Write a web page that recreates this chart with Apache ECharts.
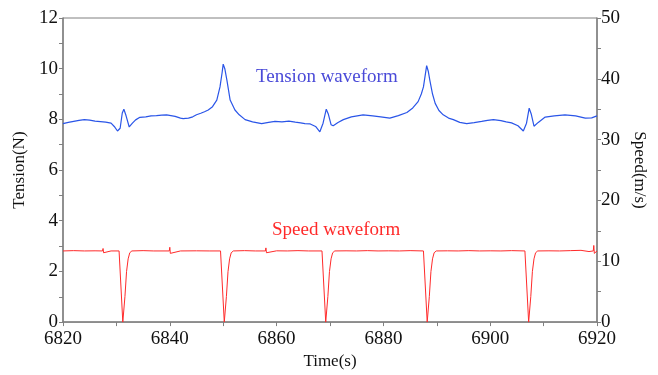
<!DOCTYPE html>
<html>
<head>
<meta charset="utf-8">
<script src="https://cdn.jsdelivr.net/npm/echarts@6/dist/echarts.min.js"></script>
<style>html,body{margin:0;padding:0;background:#fff}#c{width:658px;height:375px}</style>
</head>
<body>
<div id="c"></div>
<script>
// Time ticks (s)
const xTicks = [6820, 6840, 6860, 6880, 6900, 6920];
// Tension waveform (N) on left axis
const tensionT = [6820, 6821, 6822, 6823, 6824, 6825, 6826, 6827, 6828, 6829, 6829.6, 6830.2, 6830.7, 6831.1, 6831.4, 6831.8, 6832.4, 6833, 6833.6, 6834.4, 6835.5, 6836.5, 6837.5, 6838.5, 6839.4, 6840.2, 6841, 6842, 6842.5, 6843.5, 6844.3, 6845, 6845.8, 6846.5, 6847.2, 6848, 6848.8, 6849.4, 6849.8, 6850, 6850.3, 6850.7, 6851.3, 6852.2, 6853, 6854.1, 6855.5, 6857.2, 6858.5, 6859.7, 6861, 6862.3, 6863.5, 6864.5, 6865.3, 6866.3, 6867.3, 6868.1, 6868.7, 6869.3, 6869.7, 6870.2, 6870.6, 6871.5, 6872.5, 6874, 6876.2, 6878, 6879.5, 6881.2, 6882.8, 6884.4, 6885.5, 6886.5, 6887.1, 6887.5, 6888.1, 6888.4, 6888.7, 6889.2, 6889.7, 6890.4, 6891.2, 6892.2, 6893.1, 6894.3, 6895.6, 6897, 6898.4, 6899.5, 6900.6, 6902, 6903, 6904, 6905.2, 6906.2, 6906.8, 6907.3, 6907.7, 6908.2, 6909, 6910.3, 6912, 6914, 6916, 6917.8, 6919, 6920];
const tensionV = [7.83, 7.88, 7.92, 7.96, 7.99, 7.97, 7.93, 7.91, 7.89, 7.85, 7.72, 7.54, 7.65, 8.25, 8.40, 8.15, 7.70, 7.85, 7.98, 8.08, 8.10, 8.14, 8.15, 8.17, 8.18, 8.15, 8.12, 8.05, 8.03, 8.05, 8.10, 8.18, 8.24, 8.30, 8.37, 8.50, 8.76, 9.28, 9.85, 10.18, 10.0, 9.54, 8.76, 8.37, 8.18, 7.99, 7.90, 7.83, 7.88, 7.92, 7.90, 7.93, 7.89, 7.86, 7.83, 7.82, 7.72, 7.51, 7.85, 8.40, 8.20, 7.79, 7.75, 7.88, 7.99, 8.10, 8.18, 8.14, 8.10, 8.05, 8.15, 8.27, 8.45, 8.70, 9.0, 9.28, 10.12, 9.9, 9.54, 9.0, 8.63, 8.35, 8.18, 8.05, 7.99, 7.88, 7.83, 7.87, 7.92, 7.96, 7.99, 7.95, 7.90, 7.86, 7.75, 7.54, 7.85, 8.44, 8.20, 7.73, 7.88, 8.09, 8.14, 8.18, 8.14, 8.05, 8.06, 8.14];
// Speed waveform (m/s) on right axis
const speedT = [6820, 6822, 6824, 6826, 6827.4, 6827.5, 6827.6, 6829, 6830.5, 6831.2, 6831.6, 6831.9, 6832.2, 6832.5, 6832.9, 6835, 6837, 6839.9, 6840, 6840.1, 6842, 6845, 6847.5, 6847.6, 6847.7, 6849.5, 6850.2, 6850.6, 6850.9, 6851.2, 6851.5, 6851.9, 6854, 6856, 6857.9, 6858, 6858.1, 6860, 6862, 6864, 6866, 6868.5, 6869.2, 6869.6, 6869.9, 6870.2, 6870.5, 6870.9, 6873, 6875, 6877, 6879, 6881, 6883, 6885, 6887.5, 6888.2, 6888.6, 6888.9, 6889.2, 6889.5, 6889.9, 6892, 6894, 6896, 6898, 6900, 6902, 6904, 6906.5, 6907.2, 6907.6, 6907.9, 6908.2, 6908.5, 6908.9, 6911, 6913, 6915, 6917, 6918.5, 6919.3, 6919.4, 6919.5, 6920];
const speedV = [11.7, 11.75, 11.7, 11.72, 11.7, 12.1, 11.4, 11.7, 11.7, 0, 4.2, 8.3, 10.4, 11.4, 11.7, 11.75, 11.7, 11.7, 12.3, 11.3, 11.7, 11.72, 11.7, 12.0, 11.5, 11.7, 0, 4.2, 8.3, 10.4, 11.4, 11.7, 11.75, 11.7, 11.7, 12.2, 11.4, 11.72, 11.7, 11.75, 11.7, 11.7, 0, 4.2, 8.3, 10.4, 11.4, 11.7, 11.72, 11.7, 11.75, 11.7, 11.72, 11.7, 11.75, 11.7, 0, 4.2, 8.3, 10.4, 11.4, 11.7, 11.72, 11.7, 11.75, 11.7, 11.72, 11.7, 11.75, 11.7, 0, 4.2, 8.3, 10.4, 11.4, 11.7, 11.72, 11.7, 11.75, 11.8, 11.6, 11.7, 12.6, 11.3, 11.7];

const tensionData = tensionT.map((t, i) => [t, tensionV[i]]);
const speedData = speedT.map((t, i) => [t, speedV[i]]);

const axisCol = '#808080';
const font = "'Liberation Serif', 'Times New Roman', serif";
const chart = echarts.init(document.getElementById('c'));
chart.setOption({
  animation: false,
  textStyle: {fontFamily: font},
  grid: {left: 63, right: 61, top: 18, bottom: 47, show: true, borderColor: axisCol, borderWidth: 1},
  xAxis: {
    type: 'value', min: xTicks[0], max: xTicks[xTicks.length - 1], interval: 20,
    name: 'Time(s)', nameLocation: 'middle', nameGap: 30,
    nameTextStyle: {fontFamily: font, fontSize: 17, color: '#111'},
    axisLine: {lineStyle: {color: axisCol, width: 1.5}},
    axisTick: {inside: false, length: 4, lineStyle: {color: axisCol}},
    minorTick: {show: true, splitNumber: 2, length: 4, lineStyle: {color: axisCol}},
    splitLine: {show: false},
    axisLabel: {fontFamily: font, fontSize: 19, color: '#111', margin: 7, formatter: v => String(v)}
  },
  yAxis: [{
    type: 'value', min: 0, max: 12, interval: 2, position: 'left',
    name: 'Tension(N)', nameLocation: 'middle', nameGap: 32, nameRotate: 90,
    nameTextStyle: {fontFamily: font, fontSize: 17, color: '#111'},
    axisLine: {show: true, lineStyle: {color: axisCol, width: 1.5}},
    axisTick: {show: true, length: 4, lineStyle: {color: axisCol}},
    minorTick: {show: true, splitNumber: 2, length: 4, lineStyle: {color: axisCol}},
    splitLine: {show: false},
    axisLabel: {fontFamily: font, fontSize: 19, color: '#111', margin: 5}
  }, {
    type: 'value', min: 0, max: 50, interval: 10, position: 'right',
    name: 'Speed(m/s)', nameLocation: 'middle', nameGap: 29, nameRotate: -90,
    nameTextStyle: {fontFamily: font, fontSize: 17, color: '#111'},
    axisLine: {show: true, lineStyle: {color: axisCol, width: 1.5}},
    axisTick: {show: true, length: 4, lineStyle: {color: axisCol}},
    minorTick: {show: true, splitNumber: 2, length: 4, lineStyle: {color: axisCol}},
    splitLine: {show: false},
    axisLabel: {fontFamily: font, fontSize: 19, color: '#111', margin: 4}
  }],
  series: [{
    type: 'line', yAxisIndex: 0, data: tensionData, showSymbol: false,
    lineStyle: {color: '#2a55e8', width: 1.2}
  }, {
    type: 'line', yAxisIndex: 1, data: speedData, showSymbol: false,
    lineStyle: {color: '#ff2a2a', width: 1}
  }],
  graphic: [{
    type: 'text', left: 256, top: 68,
    style: {text: 'Tension waveform', fontFamily: font, fontSize: 19, fill: '#4a4ad8'}
  }, {
    type: 'text', left: 272, top: 221,
    style: {text: 'Speed waveform', fontFamily: font, fontSize: 19, fill: '#ff2a2a'}
  }]
});
</script>
</body>
</html>
